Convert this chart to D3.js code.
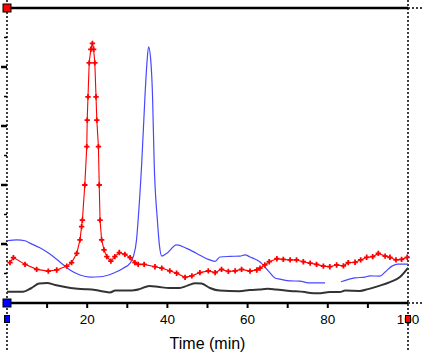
<!DOCTYPE html>
<html>
<head>
<meta charset="utf-8">
<script src="https://cdn.jsdelivr.net/npm/d3@7"></script>
<style>
  body { margin: 0; background: #fff; }
  svg { display: block; }
  text { font-family: "Liberation Sans", Arial, sans-serif; fill: #000; }
</style>
</head>
<body>
<svg width="423" height="352"></svg>
<script>
const width = 423, height = 352;
const svg = d3.select("svg");

// x ticks (minutes) and labels
const xTicks = [0, 10, 20, 30, 40, 50, 60, 70, 80, 90, 100];
const xLabels = [20, 40, 60, 80, 100];
const yMajor = [20, 40, 60, 80];
const yMinor = [10, 30, 50, 70, 90];

// black trace
const blackTime = [0, 4, 6, 8, 10, 12, 14.5, 17, 19.5, 22, 24, 25.7, 27, 30.7, 33, 35.5, 38, 40.5, 43, 45, 47, 48.5, 50.6, 53, 58, 60.5, 63, 65, 67, 70.6, 74.3, 75.6, 77.6, 80.5, 83, 84.3, 88, 90, 93, 95.5, 98, 100];
const blackVal  = [3.8, 3.8, 5.0, 6.6, 6.8, 6.1, 5.4, 4.9, 4.7, 4.4, 3.9, 3.6, 4.2, 4.2, 4.7, 5.8, 5.4, 5.1, 5.1, 5.9, 6.7, 6.6, 5.1, 4.2, 4.0, 4.4, 4.6, 4.8, 4.6, 4.1, 3.7, 3.4, 3.3, 3.7, 3.7, 4.2, 4.1, 4.7, 5.9, 7.1, 8.8, 11.9];

// blue trace (null = gap)
const blueTime = [0, 2.5, 4.5, 5.7, 8.2, 10.7, 13.2, 15.7, 18.2, 20.7, 23.2, 26.5, 29.0, 30.7, 31.5, 32.3, 32.7, 33.6, 34.4, 34.9, 35.3, 35.9, 36.3, 36.7, 37.5, 38.0, 38.6, 39.8, 42.3, 44.8, 47.3, 50.6, 51.9, 53.1, 55.6, 58.1, 59.4, 60.6, 61.8, 63.1, 64.3, 65.6, 66.8, 68.1, 70.6, 73, 75.6, 79.3, 81, 83.3, 86.8, 89.3, 90.5, 93, 94.3, 96, 97.5, 100];
const blueVal  = [21.1, 21.4, 21.1, 20.3, 18.7, 16.6, 13.9, 11.2, 9.5, 8.8, 8.9, 10.1, 11.8, 13.5, 15.7, 21.4, 28.1, 47.5, 69.9, 81.4, 86.8, 81.4, 69.9, 47.5, 28.1, 19.7, 15.9, 16.8, 19.7, 18.5, 16.8, 14.6, 14.1, 15.6, 15.8, 15.9, 16.3, 15.6, 14.9, 13.9, 12.2, 10.2, 8.5, 8.1, 7.5, 7.4, 6.8, 6.8, null, 7.2, 8.5, 8.8, 9.2, 9.1, 10.5, 12.5, 13.2, 13.2];

// red trace with markers
const redTime = [0.75, 1.6, 4.5, 7.4, 10.3, 12.4, 14.9, 16.1, 17.4, 18.2, 18.6, 18.8, 19.4, 19.9, 20.0, 20.2, 20.5, 20.9, 21.3, 21.6, 21.9, 22.2, 22.4, 22.8, 23.0, 23.2, 23.6, 24.2, 24.9, 25.9, 26.9, 28.0, 29.4, 30.7, 31.9, 32.7, 34.2, 36.9, 38.6, 40.6, 42.3, 44.4, 46.1, 48.1, 50.2, 51.9, 53.5, 55.2, 56.9, 58.5, 60.6, 62.3, 63.1, 64.3, 65.4, 67.3, 68.9, 70.6, 72.2, 73.9, 75.6, 77.2, 78.9, 80.5, 82.2, 83.9, 85.1, 86.8, 88.2, 89.7, 91.2, 92.6, 94.3, 95.5, 97.0, 98.4, 99.8];
const redVal  = [13.7, 15.4, 13.1, 11.4, 10.8, 11.2, 12.5, 13.7, 16.8, 21.4, 25.9, 28.1, 40, 53.0, 62.0, 69.9, 81.4, 86, 88.0, 86, 81.4, 69.9, 62.0, 53.0, 40, 28.1, 21.4, 18.0, 15.7, 14.2, 15.7, 17.1, 16.5, 15.4, 13.7, 13.1, 13.1, 12.3, 11.8, 10.9, 10.1, 8.7, 9.2, 10.3, 10.9, 10.3, 11.4, 10.7, 10.9, 11.4, 10.8, 11.2, 11.8, 12.9, 14.0, 15.0, 14.8, 14.6, 14.6, 14.0, 13.5, 13.1, 12.5, 12.3, 12.9, 12.6, 13.7, 13.8, 14.6, 15.5, 15.7, 16.8, 15.9, 15.5, 14.6, 14.8, 15.5];

const x = d3.scaleLinear().domain([0, 100]).range([7, 408]);
const y = d3.scaleLinear().domain([0, 100]).range([303, 8]);

const pairs = (ts, vs) => ts.map((t, i) => [t, vs[i]]);

// frame: dotted verticals and extensions
const dotted = svg.append("g").attr("stroke", "#000").attr("stroke-width", 1.5).attr("stroke-dasharray", "2,2");
dotted.append("line").attr("x1", x(0)).attr("x2", x(0)).attr("y1", 0).attr("y2", height);
dotted.append("line").attr("x1", x(100)).attr("x2", x(100)).attr("y1", 0).attr("y2", height);
dotted.append("line").attr("x1", x(100)).attr("x2", width).attr("y1", y(100)).attr("y2", y(100));
dotted.append("line").attr("x1", x(100)).attr("x2", width).attr("y1", y(0)).attr("y2", y(0));

// solid top and bottom
svg.append("line").attr("x1", x(0)).attr("x2", x(100)).attr("y1", y(100)).attr("y2", y(100))
  .attr("stroke", "#000").attr("stroke-width", 2.5);
svg.append("line").attr("x1", x(0)).attr("x2", x(100)).attr("y1", y(0)).attr("y2", y(0))
  .attr("stroke", "#000").attr("stroke-width", 2.5);

// x ticks
svg.append("g").selectAll("line").data(xTicks.filter(d => d > 0 && d < 100)).join("line")
  .attr("x1", d => x(d)).attr("x2", d => x(d))
  .attr("y1", y(0)).attr("y2", y(0) + 5)
  .attr("stroke", "#000").attr("stroke-width", 2);

svg.append("g").selectAll("text").data(xLabels).join("text")
  .attr("x", d => x(d)).attr("y", 324)
  .attr("text-anchor", "middle")
  .attr("font-size", 13.5)
  .text(d => d);

svg.append("text").attr("x", (x(0) + x(100)) / 2).attr("y", 349)
  .attr("text-anchor", "middle").attr("font-size", 16).text("Time (min)");

// y ticks
svg.append("g").selectAll("line").data(yMajor).join("line")
  .attr("x1", x(0) - 6).attr("x2", x(0))
  .attr("y1", d => y(d)).attr("y2", d => y(d))
  .attr("stroke", "#000").attr("stroke-width", 2.5);
svg.append("g").selectAll("line").data(yMinor).join("line")
  .attr("x1", x(0) - 3).attr("x2", x(0))
  .attr("y1", d => y(d)).attr("y2", d => y(d))
  .attr("stroke", "#000").attr("stroke-width", 1.5);

// traces
const smooth = d3.line().defined(d => d[1] != null)
  .x(d => x(d[0])).y(d => y(d[1])).curve(d3.curveMonotoneX);
const straight = d3.line().x(d => x(d[0])).y(d => y(d[1]));

svg.append("path").datum(pairs(blackTime, blackVal))
  .attr("d", smooth).attr("fill", "none")
  .attr("stroke", "#333").attr("stroke-width", 2);

svg.append("path").datum(pairs(blueTime, blueVal))
  .attr("d", smooth).attr("fill", "none")
  .attr("stroke", "#4848ff").attr("stroke-width", 1.2);

const redData = pairs(redTime, redVal);
svg.append("path").datum(redData)
  .attr("d", straight).attr("fill", "none")
  .attr("stroke", "#f00").attr("stroke-width", 1.1);

svg.append("g").selectAll("path").data(redData).join("path")
  .attr("d", d3.symbol(d3.symbolCross, 16))
  .attr("transform", d => `translate(${x(d[0])},${y(d[1])})`)
  .attr("fill", "#f00");

// corner handles
const handle = (cx, cy, w, h, fill) => svg.append("rect")
  .attr("x", cx - w / 2).attr("y", cy - h / 2).attr("width", w).attr("height", h)
  .attr("fill", fill).attr("stroke", "#000").attr("stroke-width", 1);
handle(x(0), y(100), 8, 8, "#f00");
handle(x(0), y(0), 8, 8, "#0000ff");
handle(x(0), 319, 5, 7, "#0000ff");
handle(x(100), 319, 5, 7, "#f00");
</script>
</body>
</html>
